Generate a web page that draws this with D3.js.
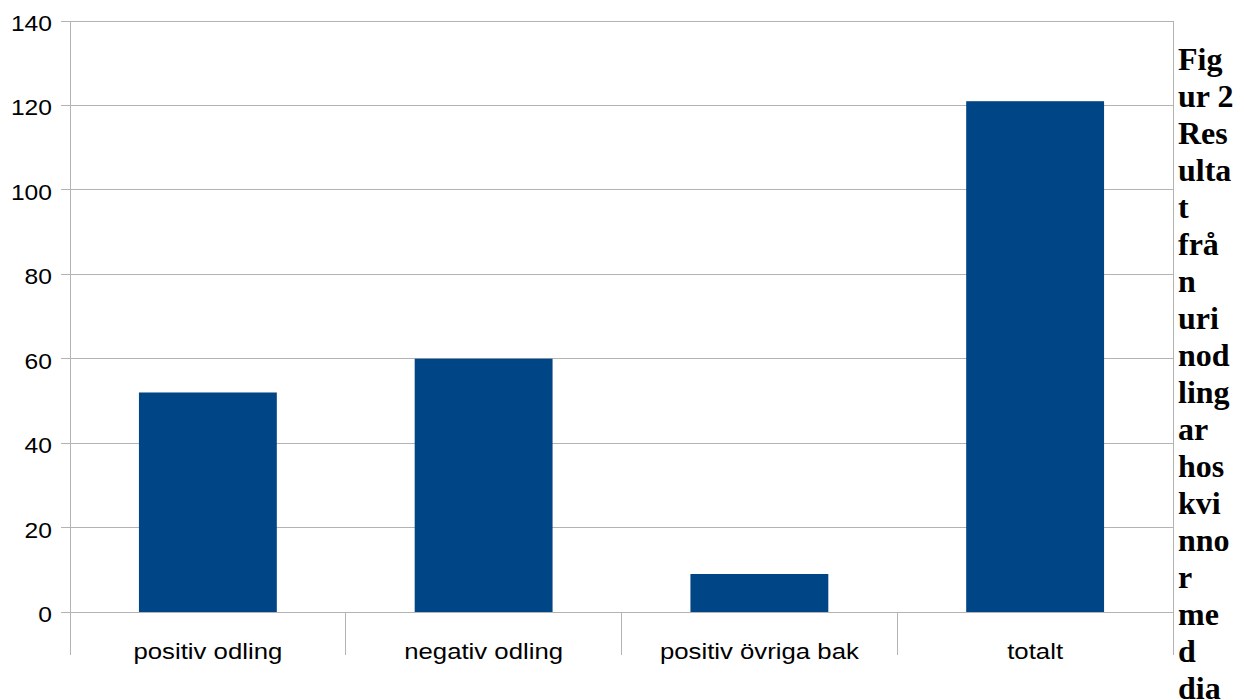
<!DOCTYPE html>
<html>
<head>
<meta charset="utf-8">
<script src="https://cdn.jsdelivr.net/npm/d3@7"></script>
<style>
  html, body { margin: 0; padding: 0; background: #fff; }
  svg { display: block; }
</style>
</head>
<body>
<svg id="chart" width="1242" height="700"></svg>
<script>
// Urine culture results
const categories = ["positiv odling", "negativ odling", "positiv övriga bak", "totalt"];
const counts = [52, 60, 9, 121];
const yTicks = [0, 20, 40, 60, 80, 100, 120, 140];
const captionLines = ["Fig", "ur 2", "Res", "ulta", "t", "frå", "n", "uri", "nod",
  "ling", "ar", "hos", "kvi", "nno", "r", "me", "d", "dia"];

const svg = d3.select("#chart");
const plotLeft = 70, plotRight = 1173, plotTop = 21, plotBottom = 612;
const gridColor = "#b3b3b3";
const sansFont = "Liberation Sans, Arial, sans-serif";
const stretch = 1.12;

const x = d3.scaleBand().domain(categories).range([plotLeft, plotRight]).paddingInner(0).paddingOuter(0);
const y = d3.scaleLinear().domain([0, 140]).range([plotBottom, plotTop]);

// horizontal grid lines
svg.append("g").selectAll("line").data(yTicks).join("line")
  .attr("x1", plotLeft - 9).attr("x2", plotRight)
  .attr("y1", d => y(d)).attr("y2", d => y(d))
  .attr("stroke", gridColor).attr("stroke-width", 1)
  .attr("shape-rendering", "crispEdges");

// y axis line
svg.append("line")
  .attr("x1", plotLeft).attr("x2", plotLeft).attr("y1", plotTop).attr("y2", plotBottom + 43)
  .attr("stroke", gridColor).attr("shape-rendering", "crispEdges");

// category separators below the axis, plus the right frame edge
const seps = categories.map(c => x(c)).concat([plotRight]).slice(1);
svg.append("g").selectAll("line").data(seps).join("line")
  .attr("x1", d => d).attr("x2", d => d)
  .attr("y1", d => d === plotRight ? plotTop : plotBottom).attr("y2", plotBottom + 43)
  .attr("stroke", gridColor).attr("shape-rendering", "crispEdges");

// bars
const barW = x.bandwidth() * 0.5;
svg.append("g").selectAll("rect").data(counts).join("rect")
  .attr("x", (d, i) => x(categories[i]) + (x.bandwidth() - barW) / 2)
  .attr("width", barW)
  .attr("y", d => y(d))
  .attr("height", d => y(0) - y(d))
  .attr("fill", "#004586");

// y tick labels
svg.append("g").selectAll("text").data(yTicks).join("text")
  .attr("transform", d => `translate(52,${y(d) + 10}) scale(${stretch},1)`)
  .attr("text-anchor", "end")
  .attr("font-family", sansFont)
  .attr("font-size", 22)
  .attr("fill", "#000")
  .text(d => d);

// category labels
svg.append("g").selectAll("text").data(categories).join("text")
  .attr("transform", d => `translate(${x(d) + x.bandwidth() / 2},659) scale(${stretch},1)`)
  .attr("text-anchor", "middle")
  .attr("font-family", sansFont)
  .attr("font-size", 23)
  .attr("fill", "#000")
  .text(d => d);

// caption wrapped in the narrow right column
svg.append("g").selectAll("text").data(captionLines).join("text")
  .attr("x", 1178)
  .attr("y", (d, i) => 70 + i * 37)
  .attr("font-family", "Liberation Serif, Times New Roman, serif")
  .attr("font-weight", "bold")
  .attr("font-size", 32)
  .attr("fill", "#000")
  .text(d => d);
</script>
</body>
</html>
